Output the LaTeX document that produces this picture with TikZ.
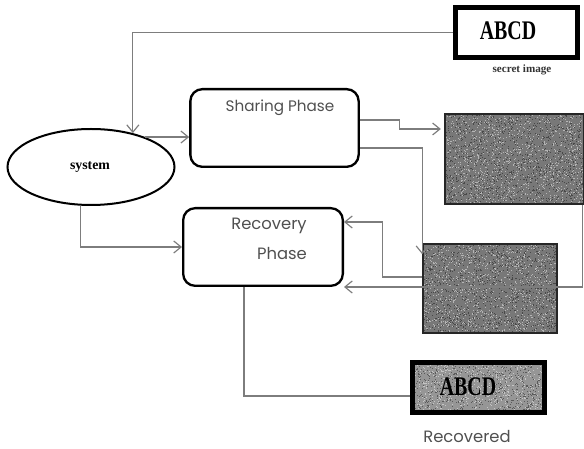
\documentclass[tikz,border=0pt]{standalone}
\usepackage{fontspec}
\setmainfont{Liberation Serif}
\newfontfamily\gothic{Poppins}
\usetikzlibrary{shapes, arrows.meta, positioning, calc}
\definecolor{wiregray}{RGB}{125, 125, 125}
\definecolor{labelgray}{RGB}{80, 80, 80}
\definecolor{sharegray}{RGB}{120, 120, 120}
\definecolor{recgray}{RGB}{150, 150, 150}

\begin{document}
\begin{tikzpicture}[x=0.3mm, y=-0.3mm,
  link/.style={draw=wiregray, line width=0.35mm, -{Straight Barb[length=2.2mm, width=3.6mm]}},
  wire/.style={draw=wiregray, line width=0.35mm},
  phase/.style={draw=black, line width=0.7mm, rounded corners=3.6mm, inner sep=0pt},
  imgbox/.style={draw=black, line width=1.5mm, inner sep=0pt, minimum height=15mm},
  sharebox/.style={draw=black!85, line width=0.5mm, inner sep=0pt},
  noisy/.style={fill=#1, path picture={
    \foreach \i in {1,...,1400}{
      \fill[#1!55!white] ($(path picture bounding box.north west)+(rnd*150,rnd*100)$) rectangle ++(1,1);
      \fill[#1!60!black] ($(path picture bounding box.north west)+(rnd*150,rnd*100)$) rectangle ++(1,1);
    }}},
  gothictxt/.style={font=\gothic\fontsize{14}{14}\selectfont, text=labelgray, inner sep=1pt},
  bigserif/.style={font=\bfseries\fontsize{17}{17}\selectfont, inner sep=1pt}
]
  \useasboundingbox (0,0) rectangle (584,449);

  % secret image in the corner
  \node[imgbox, fill=white, minimum width=36.6mm] (secret) at (516.5,32.5) {};
  \node[bigserif] (secrettxt) at (508,31) {\scalebox{1}[1.35]{ABCD}};
  \node[font=\bfseries\fontsize{9.5}{9.5}\selectfont, text=black!80, inner sep=1pt] (secretlbl) at (522,70) {secret image};

  % system and the two phases
  \node[draw, ellipse, line width=0.6mm, minimum width=50.1mm, minimum height=22.8mm] (sys) at (91,167) {};
  \node[font=\bfseries\fontsize{11.8}{11.8}\selectfont, inner sep=1pt] (systxt) at (90,167) {system};
  \node[phase, minimum width=50.5mm, minimum height=23.3mm] (sharing) at (274.5,128) {};
  \node[gothictxt, font=\gothic\fontsize{13}{13}\selectfont] (sharingtxt) at (280,108) {Sharing Phase};
  \node[phase, minimum width=47.9mm, minimum height=23.3mm] (recov) at (263,247) {};
  \node[gothictxt] (recovtxt) at (269,226) {Recovery};
  \node[gothictxt] (phasetxt) at (282,254) {Phase};

  % the shares
  \node[sharebox, noisy=sharegray, minimum width=41.7mm, minimum height=27mm] (share1) at (514.5,159) {};
  \node[sharebox, noisy=sharegray, minimum width=40.2mm, minimum height=26.7mm] (share2) at (490,288.5) {};

  % recovered image
  \node[imgbox, noisy=recgray, minimum width=39.6mm] (recovered) at (478.5,387.5) {};
  \node[bigserif] (recoveredtxt) at (468,387) {\scalebox{1}[1.35]{ABCD}};
  \node[gothictxt] (recoveredlbl) at (467,437) {Recovered};

  % connectors
  \draw[link] (secret.west) -| (sys.39);
  \draw[link] (sys.29) -- (sys.29 -| sharing.west);
  \draw[link] (sys.255) |- (recov.west);
  \draw[link, shorten >=1mm] ([yshift=2.4mm]sharing.east) -- ++(40,0) |- ([yshift=9mm]share1.west);
  \draw[link] ([yshift=-6mm]sharing.east) -| ([yshift=-3.3mm]share2.north west);
  \draw[link] ([yshift=3.45mm]share2.west) -- ++(-40,0) |- ([yshift=7.5mm]recov.east);
  \draw[link] ([xshift=-0.6mm]share1.south east) |- ([yshift=-12mm]recov.east);
  \draw[wire] ([xshift=-5.7mm]recov.south) |- ([yshift=-2.55mm]recovered.west);
\end{tikzpicture}
\end{document}
